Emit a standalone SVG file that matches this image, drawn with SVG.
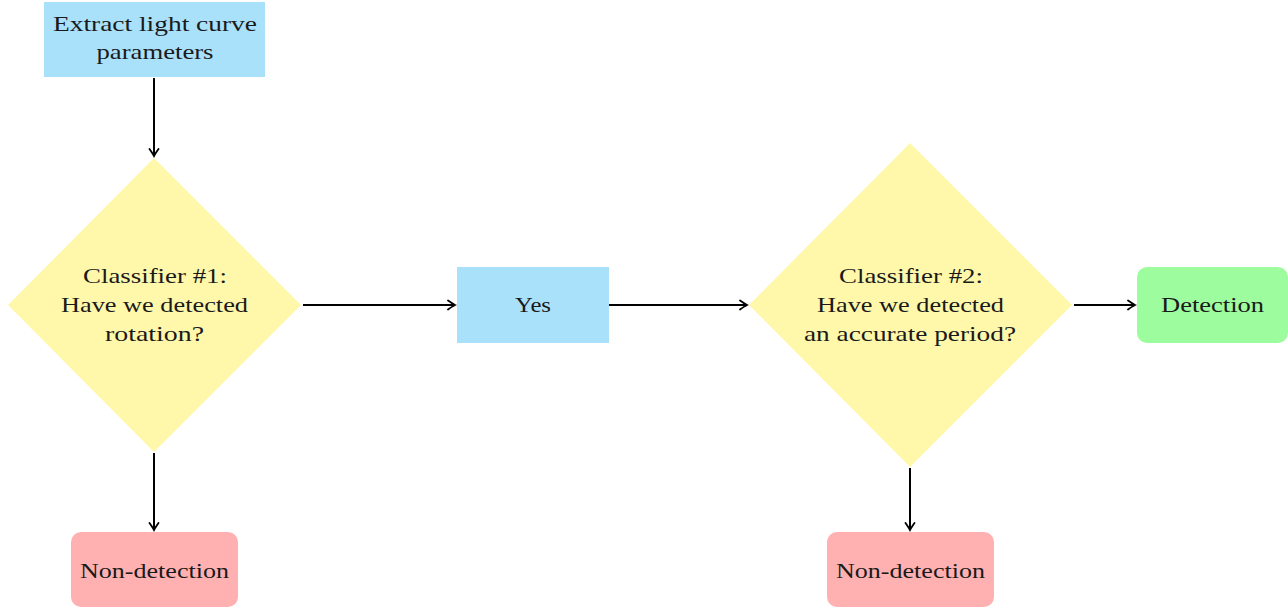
<svg xmlns="http://www.w3.org/2000/svg" width="1288" height="608" viewBox="0 0 1288 608">
<defs>
<style>
.t{font-family:"Liberation Serif","Times New Roman",serif;font-size:22px;fill:#1a1a1a;text-anchor:middle}
.blue{fill:#aae1fa}
.yellow{fill:#fff8ab}
.green{fill:#9dfc9d}
.red{fill:#ffb1b1}
.c{stroke:#000;stroke-width:2;fill:none}
</style>
<marker id="ah" viewBox="-10 -6 12 12" markerWidth="12" markerHeight="12" refX="0" refY="0" orient="auto" markerUnits="userSpaceOnUse">
<path d="M-7,-4.5 Q-2,-1 0,0 Q-2,1 -7,4.5" fill="none" stroke="#000" stroke-width="1.8" stroke-linecap="round"/>
</marker>
</defs>
<g id="extract">
<rect class="blue" x="44" y="2" width="221" height="75"/>
<text class="t" x="155" y="31" textLength="204" lengthAdjust="spacingAndGlyphs">Extract light curve</text>
<text class="t" x="155" y="59" textLength="117" lengthAdjust="spacingAndGlyphs">parameters</text>
</g>
<g id="classifier1">
<polygon class="yellow" points="154,158 301,305 154,452 8,305"/>
<text class="t" x="155" y="283" textLength="144" lengthAdjust="spacingAndGlyphs">Classifier #1:</text>
<text class="t" x="154.5" y="312" textLength="187" lengthAdjust="spacingAndGlyphs">Have we detected</text>
<text class="t" x="154.5" y="341" textLength="99" lengthAdjust="spacingAndGlyphs">rotation?</text>
</g>
<g id="yes">
<rect class="blue" x="457" y="267" width="152" height="76"/>
<text class="t" x="533" y="312" textLength="36" lengthAdjust="spacingAndGlyphs">Yes</text>
</g>
<g id="classifier2">
<polygon class="yellow" points="910,143 1072,305 910,467 749,305"/>
<text class="t" x="911" y="283" textLength="144" lengthAdjust="spacingAndGlyphs">Classifier #2:</text>
<text class="t" x="910.5" y="312" textLength="187" lengthAdjust="spacingAndGlyphs">Have we detected</text>
<text class="t" x="910" y="341" textLength="212" lengthAdjust="spacingAndGlyphs">an accurate period?</text>
</g>
<g id="detection">
<rect class="green" x="1137" y="267" width="151" height="76" rx="10"/>
<text class="t" x="1212.5" y="312" textLength="103" lengthAdjust="spacingAndGlyphs">Detection</text>
</g>
<g id="nondetection1">
<rect class="red" x="71" y="532" width="167" height="75" rx="10"/>
<text class="t" x="154.5" y="578" textLength="149" lengthAdjust="spacingAndGlyphs">Non-detection</text>
</g>
<g id="nondetection2">
<rect class="red" x="827" y="532" width="167" height="75" rx="10"/>
<text class="t" x="910.5" y="578" textLength="149" lengthAdjust="spacingAndGlyphs">Non-detection</text>
</g>
<g id="connectors">
<line class="c" x1="154" y1="78" x2="154" y2="156" marker-end="url(#ah)"/>
<line class="c" x1="303" y1="305" x2="455" y2="305" marker-end="url(#ah)"/>
<line class="c" x1="609" y1="305" x2="747" y2="305" marker-end="url(#ah)"/>
<line class="c" x1="1074" y1="305" x2="1135" y2="305" marker-end="url(#ah)"/>
<line class="c" x1="154" y1="453" x2="154" y2="530" marker-end="url(#ah)"/>
<line class="c" x1="910" y1="468" x2="910" y2="530" marker-end="url(#ah)"/>
</g>
</svg>
